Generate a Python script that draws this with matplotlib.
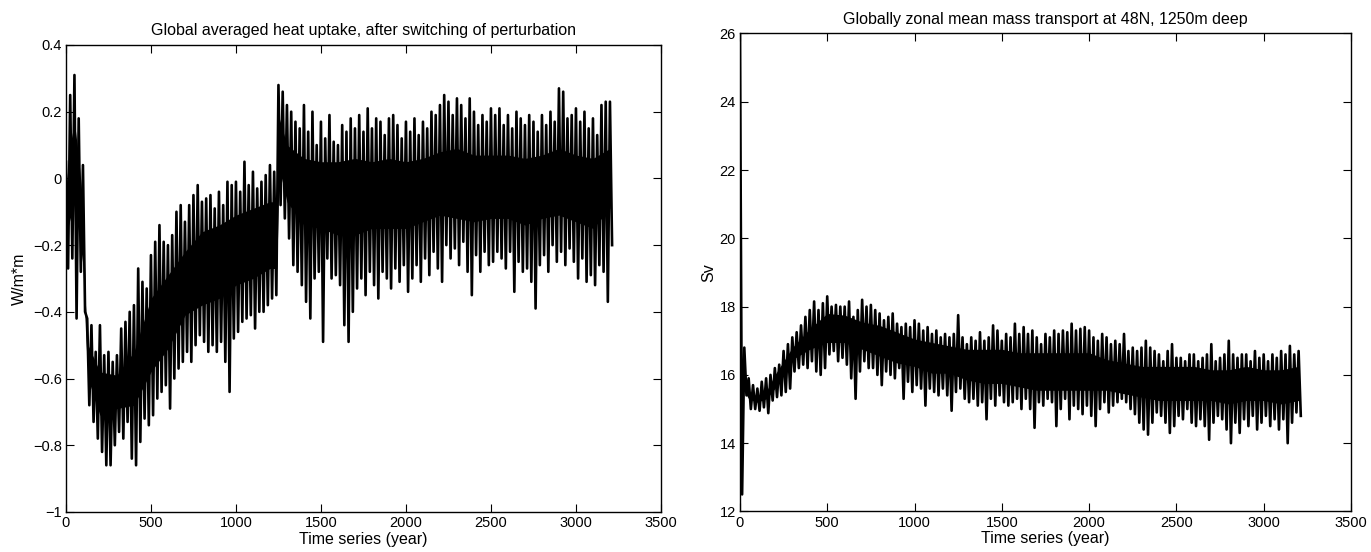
import numpy as np
import matplotlib
matplotlib.use('Agg')
import matplotlib.pyplot as plt
from matplotlib.ticker import FuncFormatter

plt.rcParams['font.family'] = ['Liberation Sans', 'DejaVu Sans']

# time axis: one high/low pair every 25 years
years = np.arange(0, 3201, 25)

# left panel: global averaged heat uptake (W/m*m), upper and lower envelope
heat_hi = [
    0.05, 0.25, 0.31, 0.18, 0.04, -0.42, -0.44, -0.52,      # 0
    -0.44, -0.53, -0.52, -0.55, -0.53, -0.45, -0.43, -0.40,  # 200
    -0.38, -0.27, -0.31, -0.33, -0.23, -0.19, -0.14, -0.19,  # 400
    -0.20, -0.17, -0.10, -0.08, -0.13, -0.08, -0.05, -0.02,  # 600
    -0.07, -0.06, -0.05, -0.09, -0.04, -0.08, -0.01, -0.02,  # 800
    -0.01, -0.04, 0.05, -0.02, 0.02, -0.03, -0.01, 0.01,     # 1000
    0.04, 0.02, 0.28, 0.26, 0.22, 0.20, 0.17, 0.15,          # 1200
    0.22, 0.14, 0.20, 0.10, 0.17, 0.12, 0.19, 0.11,          # 1400
    0.10, 0.16, 0.14, 0.18, 0.15, 0.19, 0.14, 0.21,          # 1600
    0.15, 0.18, 0.17, 0.13, 0.18, 0.19, 0.16, 0.12,          # 1800
    0.17, 0.14, 0.18, 0.13, 0.17, 0.15, 0.20, 0.19,          # 2000
    0.22, 0.25, 0.23, 0.19, 0.24, 0.22, 0.18, 0.24,          # 2200
    0.20, 0.16, 0.19, 0.17, 0.21, 0.19, 0.21, 0.16,          # 2400
    0.19, 0.15, 0.20, 0.18, 0.16, 0.19, 0.17, 0.14,          # 2600
    0.19, 0.16, 0.20, 0.17, 0.27, 0.26, 0.18, 0.19,          # 2800
    0.21, 0.17, 0.20, 0.15, 0.18, 0.13, 0.22, 0.23,          # 3000
    0.23,                                                    # 3200
]
heat_lo = [
    -0.27, -0.24, -0.42, -0.28, -0.40, -0.68, -0.73, -0.78,  # 0
    -0.82, -0.86, -0.86, -0.80, -0.76, -0.78, -0.73, -0.84,  # 200
    -0.86, -0.79, -0.72, -0.74, -0.71, -0.66, -0.64, -0.62,  # 400
    -0.69, -0.60, -0.57, -0.55, -0.52, -0.55, -0.50, -0.47,  # 600
    -0.49, -0.52, -0.50, -0.52, -0.49, -0.55, -0.64, -0.48,  # 800
    -0.46, -0.43, -0.42, -0.41, -0.45, -0.40, -0.40, -0.38,  # 1000
    -0.36, -0.35, -0.08, -0.12, -0.18, -0.26, -0.28, -0.32,  # 1200
    -0.37, -0.42, -0.30, -0.28, -0.49, -0.24, -0.30, -0.29,  # 1400
    -0.32, -0.44, -0.49, -0.40, -0.33, -0.30, -0.35, -0.28,  # 1600
    -0.32, -0.36, -0.28, -0.30, -0.33, -0.27, -0.31, -0.26,  # 1800
    -0.34, -0.30, -0.26, -0.31, -0.24, -0.29, -0.22, -0.27,  # 2000
    -0.31, -0.20, -0.24, -0.21, -0.26, -0.19, -0.28, -0.35,  # 2200
    -0.23, -0.28, -0.22, -0.26, -0.25, -0.22, -0.24, -0.27,  # 2400
    -0.22, -0.34, -0.25, -0.28, -0.27, -0.31, -0.39, -0.26,  # 2600
    -0.23, -0.28, -0.20, -0.25, -0.22, -0.26, -0.21, -0.25,  # 2800
    -0.30, -0.24, -0.31, -0.29, -0.32, -0.26, -0.28, -0.37,  # 3000
    -0.20,                                                   # 3200
]

# solid core of the heat uptake band
heat_core_years = [0, 25, 50, 75, 100, 115, 130, 200, 300, 400, 500, 600,
                   700, 800, 900, 1000, 1100, 1200, 1240, 1255, 1300, 1400,
                   1500, 1600, 1700, 1800, 1900, 2000, 2100, 2200, 2300,
                   2400, 2500, 2600, 2700, 2800, 2900, 3000, 3100, 3200]
heat_core_hi = [-0.03, 0.10, 0.17, 0.06, -0.08, -0.38, -0.50, -0.58, -0.59,
                -0.52, -0.36, -0.29, -0.22, -0.16, -0.14, -0.11, -0.09,
                -0.07, -0.07, 0.18, 0.10, 0.06, 0.05, 0.05, 0.06, 0.05,
                0.06, 0.05, 0.06, 0.08, 0.09, 0.07, 0.07, 0.07, 0.06, 0.07,
                0.09, 0.07, 0.06, 0.09]
heat_core_lo = [-0.17, -0.12, -0.07, -0.16, -0.26, -0.46, -0.60, -0.71,
                -0.69, -0.68, -0.58, -0.51, -0.41, -0.38, -0.36, -0.32,
                -0.30, -0.27, -0.27, 0.03, -0.07, -0.14, -0.15, -0.17, -0.17,
                -0.15, -0.15, -0.15, -0.13, -0.11, -0.12, -0.13, -0.12,
                -0.12, -0.14, -0.12, -0.11, -0.13, -0.15, -0.09]

# right panel: zonal mean mass transport at 48N, 1250m (Sv)
flow_hi = [
    26.0, 16.8, 15.9, 15.7, 15.6, 15.8, 15.9, 16.0,      # 0
    16.2, 16.3, 16.7, 16.9, 17.1, 17.25, 17.45, 17.7,    # 200
    17.9, 18.15, 17.9, 18.1, 18.3, 18.0, 18.05, 18.0,    # 400
    18.0, 18.15, 17.7, 17.9, 18.2, 18.0, 18.05, 17.9,    # 600
    17.8, 17.6, 17.7, 17.8, 17.5, 17.4, 17.5, 17.4,      # 800
    17.6, 17.5, 17.3, 17.4, 17.2, 17.3, 17.1, 17.2,      # 1000
    17.1, 17.2, 17.75, 17.1, 16.9, 17.1, 17.0, 17.25,    # 1200
    17.0, 17.1, 17.45, 17.3, 17.0, 17.2, 17.1, 17.5,     # 1400
    17.2, 17.4, 17.2, 17.3, 17.1, 16.9, 17.2, 17.1,      # 1600
    17.3, 17.2, 17.3, 17.25, 17.5, 17.3, 17.35, 17.4,    # 1800
    17.3, 17.1, 17.0, 17.2, 17.1, 16.9, 17.0, 16.9,      # 2000
    17.2, 16.7, 16.8, 16.7, 16.8, 17.0, 16.8, 16.7,      # 2200
    16.6, 16.4, 16.7, 16.9, 16.5, 16.5, 16.4, 16.6,      # 2400
    16.6, 16.4, 16.5, 16.6, 16.9, 16.4, 16.5, 16.6,      # 2600
    17.0, 16.6, 16.5, 16.6, 16.6, 16.4, 16.7, 16.5,      # 2800
    16.6, 16.4, 16.6, 16.5, 16.7, 16.6, 16.85, 16.6,     # 3000
    16.7,                                                # 3200
]
flow_lo = [
    12.5, 15.4, 15.0, 15.0, 14.95, 15.05, 14.88, 15.25,  # 0
    15.35, 15.4, 15.5, 15.6, 16.1, 16.2, 16.3, 16.2,     # 200
    16.4, 16.1, 16.0, 16.2, 16.6, 16.7, 16.4, 16.5,      # 400
    16.3, 15.9, 15.3, 16.1, 16.4, 16.2, 16.2, 16.0,      # 600
    15.7, 16.1, 16.0, 15.9, 16.2, 15.3, 15.8, 15.5,      # 800
    15.7, 15.6, 15.1, 15.6, 15.5, 15.4, 15.6, 15.4,      # 1000
    14.95, 15.5, 15.6, 15.3, 15.2, 15.3, 15.1, 15.2,     # 1200
    14.7, 15.3, 15.1, 15.4, 15.2, 15.1, 15.2, 15.3,      # 1400
    15.0, 15.3, 15.0, 14.45, 15.2, 15.1, 15.3, 15.2,     # 1600
    14.5, 15.0, 15.3, 14.7, 15.1, 15.0, 14.85, 15.1,     # 1800
    14.8, 14.5, 15.0, 15.2, 14.9, 15.1, 15.2, 15.3,      # 2000
    15.2, 15.0, 14.85, 14.6, 14.4, 14.25, 14.6, 14.9,    # 2200
    14.8, 14.6, 14.3, 14.5, 14.8, 14.7, 15.0, 14.6,      # 2400
    14.5, 14.7, 14.5, 14.1, 14.6, 14.8, 14.7, 14.4,      # 2600
    14.0, 14.6, 14.3, 14.7, 14.5, 14.8, 14.4, 14.6,      # 2800
    14.8, 14.5, 14.7, 14.4, 14.7, 14.0, 14.6, 14.9,      # 3000
    14.8,                                                # 3200
]

# solid core of the mass transport band
flow_core_years = [15, 50, 100, 150, 200, 300, 400, 500, 600, 700, 800,
                   900, 1000, 1100, 1200, 1300, 1400, 1500, 1600, 1700,
                   1800, 1900, 2000, 2100, 2200, 2300, 2400, 2500, 2600,
                   2700, 2800, 2900, 3000, 3100, 3200]
flow_core_hi = [15.9, 15.5, 15.3, 15.5, 16.0, 16.8, 17.35, 17.8, 17.75,
                17.55, 17.45, 17.25, 17.05, 16.95, 16.85, 16.75, 16.75,
                16.75, 16.65, 16.65, 16.65, 16.65, 16.65, 16.45, 16.35,
                16.25, 16.25, 16.25, 16.25, 16.15, 16.15, 16.25, 16.15,
                16.15, 16.25]
flow_core_lo = [15.6, 15.3, 15.2, 15.3, 15.6, 16.45, 16.75, 16.95, 16.95,
                16.75, 16.55, 16.35, 16.25, 16.05, 16.05, 15.85, 15.75,
                15.75, 15.65, 15.55, 15.55, 15.55, 15.55, 15.55, 15.45,
                15.35, 15.25, 15.25, 15.25, 15.25, 15.15, 15.25, 15.25,
                15.15, 15.25]

heat_yticks = [-1, -0.8, -0.6, -0.4, -0.2, 0, 0.2, 0.4]
flow_yticks = [12, 14, 16, 18, 20, 22, 24, 26]
xticks = [0, 500, 1000, 1500, 2000, 2500, 3000, 3500]


def zigzag(hi, lo):
    # alternate high and low values half a step apart
    x = np.column_stack([years, years + 12.5]).ravel()
    y = np.column_stack([hi, lo]).ravel()
    return x, y


def fmt(v, pos):
    return f"{v:g}".replace('-', '\u2212')


fig = plt.figure(figsize=(13.71, 5.52), dpi=100)
ax1 = fig.add_axes([0.0481, 0.0725, 0.434, 0.846])
ax2 = fig.add_axes([0.5397, 0.0734, 0.4457, 0.866])

ax1.fill_between(heat_core_years, heat_core_hi, heat_core_lo,
                 color='black', lw=0)
x, y = zigzag(heat_hi, heat_lo)
ax1.plot(x, y, color='black', lw=1.9)
ax1.set_xlim(0, 3500)
ax1.set_ylim(-1, 0.4)
ax1.set_yticks(heat_yticks)
ax1.set_title('Global averaged heat uptake, after switching of perturbation',
              fontsize=11.5, pad=7)
ax1.set_ylabel('W/m*m', fontsize=11.5)

ax2.fill_between(flow_core_years, flow_core_hi, flow_core_lo,
                 color='black', lw=0)
x, y = zigzag(flow_hi, flow_lo)
ax2.plot(x, y, color='black', lw=1.9)
ax2.set_xlim(0, 3500)
ax2.set_ylim(12, 26)
ax2.set_yticks(flow_yticks)
ax2.set_title('Globally zonal mean mass transport at 48N, 1250m deep',
              fontsize=11.5, pad=7)
ax2.set_ylabel('Sv', fontsize=11.5, labelpad=2)

for ax in (ax1, ax2):
    ax.set_xticks(xticks)
    ax.xaxis.set_major_formatter(FuncFormatter(fmt))
    ax.yaxis.set_major_formatter(FuncFormatter(fmt))
    ax.set_xlabel('Time series (year)', fontsize=11.5, labelpad=1)
    ax.tick_params(direction='in', top=True, right=True, length=6,
                   width=0.8, labelsize=10.5, pad=3)
    for s in ax.spines.values():
        s.set_linewidth(1.0)

fig.savefig('out.png', dpi=100)
